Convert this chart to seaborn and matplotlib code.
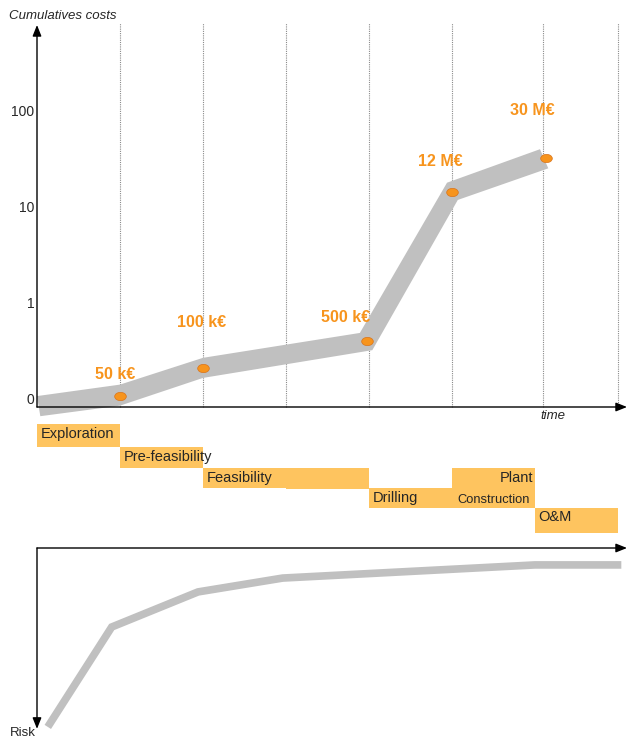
import numpy as np
import pandas as pd
import matplotlib
matplotlib.use("Agg")
import matplotlib.pyplot as plt
import seaborn as sns
from matplotlib.path import Path
from matplotlib.transforms import Affine2D

# --- data (time in phase units, cost on the 0/1/10/100 axis, risk 0-100) ---
# cost band: upper and lower edge of the grey corridor
band_upper_time = [0.0, 1.0, 2.0, 3.89, 4.94, 6.06]
band_upper_cost = [0.02, 0.14, 0.42, 0.68, 2.25, 2.60]
band_lower_time = [0.04, 1.0, 2.0, 4.04, 5.07, 6.16]
band_lower_cost = [-0.19, -0.08, 0.21, 0.50, 2.07, 2.40]

point_time = [1.0, 2.0, 3.98, 5.0, 6.13]
point_cost = [0.02, 0.31, 0.60, 2.15, 2.51]
point_labels = ["50 k€", "100 k€", "500 k€", "12 M€", "30 M€"]

cost_ticks = [0, 1, 2, 3]
cost_tick_labels = ["0", "1", "10", "100"]
phase_bounds = [1, 2, 3, 4, 5, 6.1, 7]

phase_names = ["Exploration", "Pre-feasibility", "Feasibility", "", "Drilling", "Plant", "O&M"]
phase_start = [0, 1, 2, 3, 4, 5, 6]
phase_end = [1, 2, 3, 4, 5, 6, 7]
phase_top = [0.0, 1.05, 2.0, 2.0, 2.95, 2.0, 3.85]
phase_bottom = [1.05, 2.0, 2.95, 3.0, 3.85, 3.85, 5.0]

risk_time = [0.13, 0.9, 1.94, 2.96, 6.0, 7.04]
risk_level = [99.4, 43.9, 24.4, 16.7, 9.4, 9.4]

# --- style ---
sns.set_theme(style="white")
plt.rcParams["font.family"] = ["Liberation Sans", "DejaVu Sans"]
GREY = "#c0c0c0"
ORANGE = "#f7941d"
BOX = "#fec45f"

W, H = 627, 740
fig = plt.figure(figsize=(W / 100, H / 100), dpi=100)


def px_axes(x0, x1, y_top, y_bot):
    return fig.add_axes([x0 / W, 1 - y_bot / H, (x1 - x0) / W, (y_bot - y_top) / H])


def arrow(ax, start, end):
    ax.annotate("", xy=end, xytext=start, xycoords="axes fraction",
                arrowprops=dict(arrowstyle="-|>,head_length=0.55,head_width=0.22",
                                color="black", lw=1, shrinkA=0, shrinkB=0),
                annotation_clip=False)


# ---------------- top: cumulative costs ----------------
ax = px_axes(37, 618, 25, 407)
ax.set_xlim(0, 7)
ax.set_ylim(-0.094, 3.898)
for s in ax.spines.values():
    s.set_visible(False)
ax.set_xticks([])
ax.set_yticks(cost_ticks)
ax.set_yticklabels(cost_tick_labels, fontsize=10)
ax.tick_params(axis="y", length=0, pad=2)

ax.vlines(phase_bounds, -0.094, 3.92, colors="#8a8a8a", linestyles=(0, (1, 1)),
          lw=0.8, clip_on=False, zorder=1)

poly_x = band_upper_time + band_lower_time[::-1]
poly_y = band_upper_cost + band_lower_cost[::-1]
ax.fill(poly_x, poly_y, color=GREY, lw=0, clip_on=False, zorder=2)

ellipse = Path.unit_circle().transformed(Affine2D().scale(1.4, 1.0))
sns.scatterplot(x=point_time, y=point_cost, ax=ax, marker=ellipse, s=70,
                color=ORANGE, edgecolor="#d9731a", linewidth=0.5, zorder=4)

label_offsets = [(-5, 22), (-1, 46), (-22, 23), (-12, 31), (-13, 47)]
for x, y, txt, (dx, dy) in zip(point_time, point_cost, point_labels, label_offsets):
    ax.annotate(txt, (x, y), xytext=(dx * 0.72, dy * 0.72), textcoords="offset points",
                ha="center", va="center", color=ORANGE, fontsize=11.5,
                fontweight="bold", annotation_clip=False)

arrow(ax, (0, 0), (1.0155, 0))
arrow(ax, (0, 0), (0, 1.0))
ax.text(-0.048, 1.024, "Cumulatives costs", transform=ax.transAxes, fontsize=9.5,
        style="italic", ha="left", va="center")
ax.text(0.888, -0.024, "time", transform=ax.transAxes, fontsize=9.5,
        style="italic", ha="center", va="center")

# ---------------- middle: phases ----------------
axm = px_axes(37, 618, 424, 533)
axm.set_xlim(0, 7)
axm.set_ylim(5, 0)
axm.axis("off")
phases = pd.DataFrame({"name": phase_names, "start": phase_start, "end": phase_end,
                       "top": phase_top, "bottom": phase_bottom})
axm.bar(phases["start"], phases["bottom"] - phases["top"], bottom=phases["top"],
        width=phases["end"] - phases["start"], align="edge", color=BOX, lw=0)
for _, r in phases.iterrows():
    if not r["name"]:
        continue
    if r["name"] == "Plant":
        axm.text(r["end"] - 0.02, r["top"] + 0.48, "Plant", fontsize=10.5,
                 ha="right", va="center")
        axm.text(r["start"] + 0.06, r["top"] + 1.5, "Construction", fontsize=9.3,
                 ha="left", va="center")
        continue
    mid = r["top"] + 0.46 if r["name"] != "O&M" else r["top"] + 0.42
    axm.text(r["start"] + 0.04, mid, r["name"], fontsize=10.5, ha="left", va="center")

# ---------------- bottom: risk ----------------
axr = px_axes(37, 618, 548, 728)
axr.set_xlim(0, 7)
axr.set_ylim(100, 0)
axr.axis("off")
sns.lineplot(x=risk_time, y=risk_level, ax=axr, sort=False, color=GREY, lw=5.5,
             solid_joinstyle="miter", solid_capstyle="butt")
for ln in axr.lines:
    ln.set_clip_on(False)
arrow(axr, (0, 1), (1.0155, 1))
arrow(axr, (0, 1), (0, -0.005))
axr.text(-0.003, -0.028, "Risk", transform=axr.transAxes, fontsize=9.5,
         ha="right", va="center")

fig.savefig("out.png", dpi=100, facecolor="white")
